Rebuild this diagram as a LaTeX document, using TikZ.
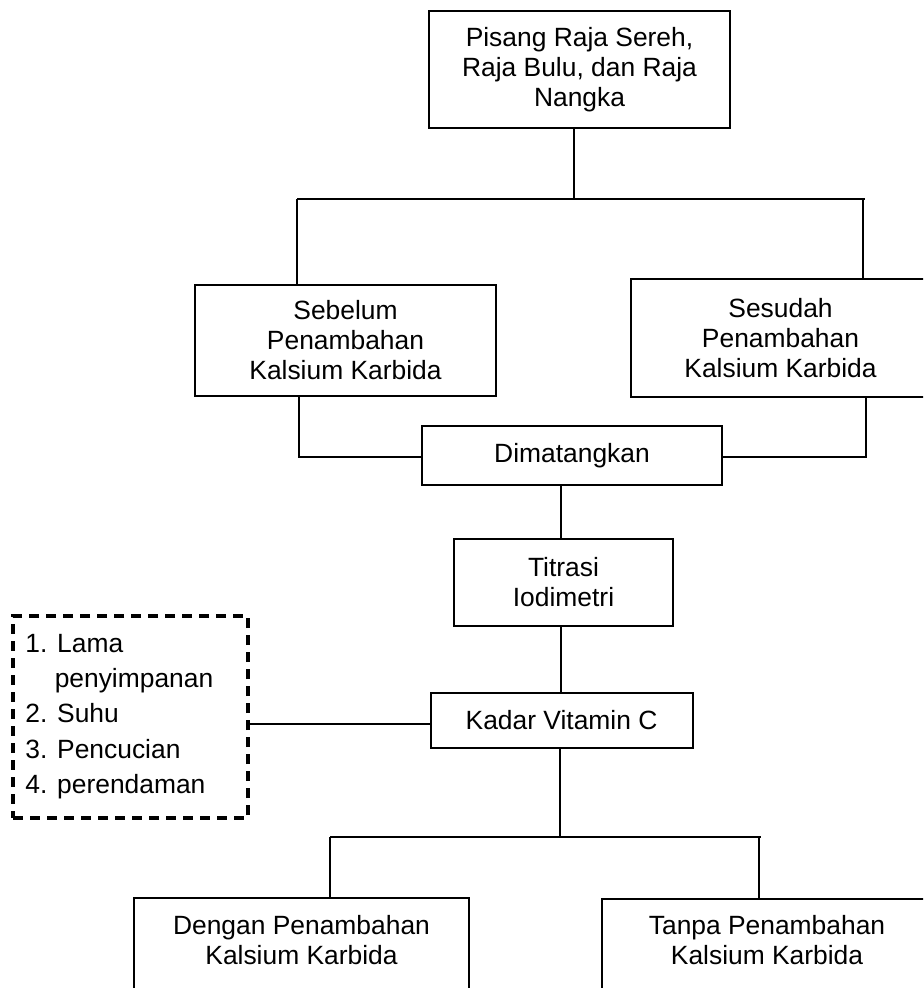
\documentclass[tikz,border=0pt]{standalone}
\usepackage{fontspec}
\setmainfont{Liberation Sans}
\begin{document}
\begin{tikzpicture}[x=0.5pt,y=-0.5pt]
\tikzset{
  box/.style={draw, line width=1pt, inner sep=0pt, align=center, font=\fontsize{13.2}{15}\selectfont},
  txt/.style={inner sep=0pt, align=center, font=\fontsize{13.2}{15}\selectfont},
  factorbox/.style={draw, line width=1.6pt, dash pattern=on 5pt off 3.5pt, inner sep=0pt},
  link/.style={line width=1pt},
}
\clip (0,0) rectangle (923,988);
\fill[white] (0,0) rectangle (923,988);

% nodes
\node[box, minimum width=150.5pt, minimum height=58.5pt] (top) at (579.5,69.5) {Pisang Raja Sereh,\\Raja Bulu, dan Raja\\Nangka};
\node[box, minimum width=150.5pt, minimum height=55.5pt] (sebelum) at (345.5,340.5) {Sebelum\\Penambahan\\Kalsium Karbida};
\node[box, minimum width=149.5pt, minimum height=59pt] (sesudah) at (780.5,338) {Sesudah\\Penambahan\\Kalsium Karbida};
\node[box, minimum width=150pt, minimum height=29.5pt] (dimat) at (572,455.5) {Dimatangkan};
\node[box, minimum width=109.5pt, minimum height=43.5pt] (titrasi) at (563.5,582.5) {Titrasi\\Iodimetri};
\node[box, minimum width=131pt, minimum height=27.5pt] (kadar) at (561.5,720.5) {Kadar Vitamin C};
\node[factorbox, minimum width=117.5pt, minimum height=101pt] (faktor) at (130.5,717) {};
\node[txt, align=left, anchor=north west, font=\fontsize{13.2}{17.6}\selectfont] (faktortext) at (25,634) {1. Lama\\\hphantom{1.\ }penyimpanan\\2. Suhu\\3. Pencucian\\4. perendaman};
\node[box, minimum width=167.5pt, minimum height=60pt, anchor=north] (dengan) at (301.5,897) {};
\node[txt, anchor=north] (dengantext) at (301.5,915) {Dengan Penambahan\\Kalsium Karbida};
\node[box, minimum width=165pt, minimum height=60pt, anchor=north] (tanpa) at (767,898) {};
\node[txt, anchor=north] (tanpatext) at (767,915) {Tanpa Penambahan\\Kalsium Karbida};

% junction coordinates
\coordinate (a1) at (574,199);
\coordinate (a1l) at (297,199);
\coordinate (a1r) at (865,199);
\coordinate (a1rv) at (863,199);
\coordinate (xl) at (299,457);
\coordinate (xr) at (866,457);
\coordinate (xm) at (561,0);
\coordinate (c1) at (560,837);
\coordinate (c1l) at (330,837);
\coordinate (c1r) at (761,837);
\coordinate (c1rv) at (759,837);
\coordinate (kl) at (250,724);

% connectors
\draw[link] (top.south -| a1) -- (a1);
\draw[link] (a1l) -- (a1r);
\draw[link] (a1l) -- (sebelum.north -| a1l);
\draw[link] (a1rv) -- (sesudah.north -| a1rv);
\draw[link] (sebelum.south -| xl) -- (xl) -- (xl -| dimat.west);
\draw[link] (sesudah.south -| xr) -- (xr) -- (xr -| dimat.east);
\draw[link] (dimat.south -| xm) -- (titrasi.north -| xm);
\draw[link] (titrasi.south -| xm) -- (kadar.north -| xm);
\draw[link] (kadar.west |- kl) -- (kl);
\draw[link] (kadar.south -| c1) -- (c1);
\draw[link] (c1l) -- (c1r);
\draw[link] (c1l) -- (dengan.north -| c1l);
\draw[link] (c1rv) -- (tanpa.north -| c1rv);
\end{tikzpicture}
\end{document}
